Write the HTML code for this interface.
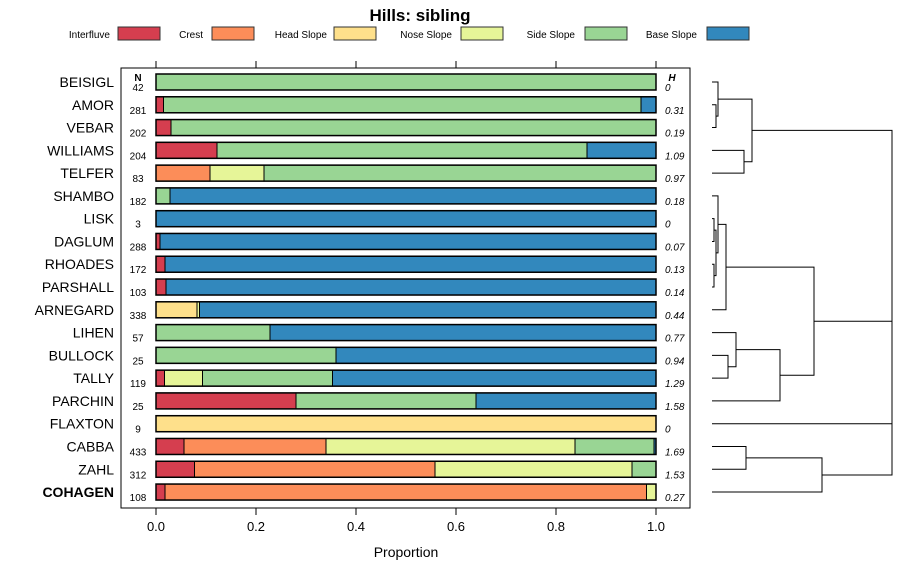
<!DOCTYPE html>
<html><head><meta charset="utf-8"><style>
body{margin:0;background:#fff;font-family:"Liberation Sans",sans-serif;}
svg text{font-family:"Liberation Sans",sans-serif;}
</style></head><body>
<svg id="c" width="900" height="580" xmlns="http://www.w3.org/2000/svg">
<text x="420" y="21" text-anchor="middle" font-size="17" font-weight="bold">Hills: sibling</text>
<g id="legend"></g>
<rect x="121" y="68" width="569" height="440" fill="none" stroke="#000"/>
<g id="axis"></g>
<g id="bars"></g>
<g id="dendro"></g>
<text x="406" y="557" text-anchor="middle" font-size="14">Proportion</text>
<text x="138" y="81" text-anchor="middle" font-size="10" font-weight="bold">N</text>
<text x="672" y="81" text-anchor="middle" font-size="10" font-weight="bold" font-style="italic">H</text>
</svg>
<script>
const classes=["Interfluve","Crest","Head Slope","Nose Slope","Side Slope","Base Slope"];
const colors=["#D53E4F","#FC8D59","#FEE08B","#E6F598","#99D594","#3288BD"];
const names=["BEISIGL","AMOR","VEBAR","WILLIAMS","TELFER","SHAMBO","LISK","DAGLUM","RHOADES","PARSHALL","ARNEGARD","LIHEN","BULLOCK","TALLY","PARCHIN","FLAXTON","CABBA","ZAHL","COHAGEN"];
const nVals=[42,281,202,204,83,182,3,288,172,103,338,57,25,119,25,9,433,312,108];
const hVals=["0","0.31","0.19","1.09","0.97","0.18","0","0.07","0.13","0.14","0.44","0.77","0.94","1.29","1.58","0","1.69","1.53","0.27"];
const props=[
[0,0,0,0,1,0],[0.015,0,0,0,0.955,0.03],[0.03,0,0,0,0.97,0],[0.122,0,0,0,0.74,0.138],
[0,0.108,0,0.108,0.784,0],[0,0,0,0,0.028,0.972],[0,0,0,0,0,1],[0.008,0,0,0,0,0.992],
[0.018,0,0,0,0,0.982],[0.02,0,0,0,0,0.98],[0,0,0.082,0.005,0,0.913],[0,0,0,0,0.228,0.772],
[0,0,0,0,0.36,0.64],[0.017,0,0,0.076,0.26,0.647],[0.28,0,0,0,0.36,0.36],[0,0,1,0,0,0],
[0.056,0.284,0,0.498,0.158,0.004],[0.077,0.481,0,0.394,0.048,0],[0.018,0,0,0.963,0.019,0]];
// fix COHAGEN: crest then nose
props[18]=[0.018,0.963,0,0.019,0,0];
const ticks=[0,0.2,0.4,0.6,0.8,1.0];
const tickLabels=["0.0","0.2","0.4","0.6","0.8","1.0"];
// dendrogram merges: [a,b,height]; leaves 0..18, clusters 19+
const merges=[[1,2,0.02],[0,19,0.03],[3,4,0.16],[20,21,0.2],
[6,7,0.01],[8,9,0.01],[23,24,0.02],[5,25,0.03],[26,10,0.07],
[12,13,0.08],[11,28,0.12],[29,14,0.34],[27,30,0.51],
[16,17,0.17],[18,32,0.55],[22,31,0.9],[33,15,0.9],[34,35,0.9]];
const NS="http://www.w3.org/2000/svg";
function mk(t,a,p){const e=document.createElementNS(NS,t);for(const k in a)e.setAttribute(k,a[k]);p.appendChild(e);return e;}
const X=v=>156+v*500, Y=i=>82+i*22.78;
const svg=document.getElementById('c');
// legend
const lg=document.getElementById('legend');
const lx=[[110,118],[203,212],[327,334],[452,461],[575,585],[697,707]];
classes.forEach((c,i)=>{
 const t=mk('text',{x:lx[i][0],y:38,'text-anchor':'end','font-size':10},lg);t.textContent=c;
 
 
 const r=mk('rect',{x:lx[i][1],y:27,width:42,height:13,fill:colors[i],stroke:'#333'},lg);
 
 
});
// axis
const ax=document.getElementById('axis');
ticks.forEach((v,i)=>{
 mk('line',{x1:X(v),x2:X(v),y1:61,y2:68,stroke:'#000'},ax);
 mk('line',{x1:X(v),x2:X(v),y1:508,y2:515,stroke:'#000'},ax);
 const t=mk('text',{x:X(v),y:531,'text-anchor':'middle','font-size':13},ax);t.textContent=tickLabels[i];
 
 
});
// bars
const bg=document.getElementById('bars');
names.forEach((n,i)=>{
 const y=Y(i);
 const t=mk('text',{x:114,y:y+5,'text-anchor':'end','font-size':14,'font-weight':i==18?'bold':'normal'},bg);t.textContent=n;
 
 
 const nt=mk('text',{x:138,y:y+9,'text-anchor':'middle','font-size':10},bg);nt.textContent=nVals[i];
 
 
 const ht=mk('text',{x:665,y:y+9,'font-size':10,'font-style':'italic'},bg);ht.textContent=hVals[i];
 
 
 let c=0;
 props[i].forEach((p,k)=>{ if(p<=0)return;
  const r=mk('rect',{x:X(c),y:y-8,width:p*500,height:16,fill:colors[k],stroke:'#000','stroke-width':1},bg);
  
  
  c+=p;});
 mk('rect',{x:X(0),y:y-8,width:500,height:16,fill:'none',stroke:'#000','stroke-width':1.5},bg);
});
// dendrogram
const dg=document.getElementById('dendro');
const DX=h=>712+h*200;
const pos={};for(let i=0;i<19;i++)pos[i]={y:Y(i),h:0};
merges.forEach((m,k)=>{
 const a=pos[m[0]],b=pos[m[1]],x=DX(m[2]);
 const p=mk('path',{d:`M${DX(a.h)},${a.y}H${x}V${b.y}H${DX(b.h)}`,fill:'none',stroke:'#000','stroke-width':1},dg);
 
 
 pos[19+k]={y:(a.y+b.y)/2,h:m[2]};
});
</script>
</body></html>
